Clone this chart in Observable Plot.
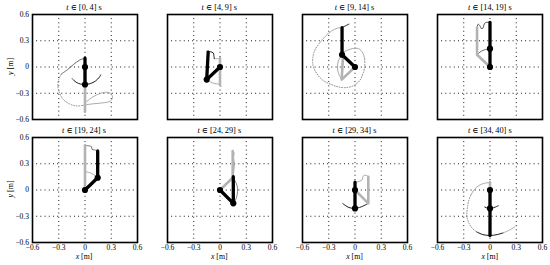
<!DOCTYPE html>
<html><head><meta charset="utf-8">
<script src="https://cdn.jsdelivr.net/npm/d3@7"></script>
<script src="https://cdn.jsdelivr.net/npm/@observablehq/plot@0.6"></script>
<style>
body{margin:0;background:#fff;}
#chart{position:relative;width:550px;height:265px;overflow:hidden;}
#chart svg{position:absolute;}
#chart svg text{font-family:"Liberation Serif","DejaVu Serif",serif !important;}
</style></head><body><div id="chart"></div>
<script>
// ---- data ----
const intervalStart = [0, 4, 9, 14, 19, 24, 29, 34];
const intervalEnd   = [4, 9, 14, 19, 24, 29, 34, 40];
const tickValues = [-0.6, -0.3, 0, 0.3, 0.6];
const tickLabels = ["−0.6", "−0.3", "0", "0.3", "0.6"];
const gridValues = [-0.3, 0, 0.3];

// arm configuration at the end of each interval: base, elbow, tip
const armEnd = [
  [[0,0],[0,-0.2],[0,0.1]],
  [[0,0],[-0.152,-0.144],[-0.135,0.17]],
  [[0,0],[-0.148,0.14],[-0.148,0.45]],
  [[0,0],[0,0.21],[0,0.51]],
  [[0,0],[0.145,0.14],[0.145,0.446]],
  [[0,0],[0.152,-0.152],[0.152,0.152]],
  [[0,0],[0,-0.21],[0,0.09]],
  [[0,0],[0,-0.21],[0,-0.52]]
];
// arm configuration at the start of each interval
const armStart = [
  [[0,0],[0,-0.2],[0,-0.51]],
  [[0,0],[0,-0.2],[0,0.1]],
  [[0,0],[-0.152,-0.144],[-0.135,0.17]],
  [[0,0],[-0.148,0.14],[-0.148,0.45]],
  [[0,0],[0,0.21],[0,0.51]],
  [[0,0],[0.145,0.14],[0.145,0.446]],
  [[0,0],[0.152,-0.152],[0.152,0.152]],
  [[0,0],[0,-0.21],[0,0.09]]
];

// trajectories
const p1TipA = [[0,-0.5],[0,-0.42],[0.05,-0.37],[0.13,-0.32],[0.22,-0.29],[0.29,-0.3],[0.315,-0.345],[0.29,-0.39],[0.2,-0.41],[0.1,-0.42],[0.02,-0.43],[-0.03,-0.44]];
const p1TipB = [[-0.03,-0.44],[-0.1,-0.445],[-0.18,-0.42],[-0.25,-0.37],[-0.29,-0.3],[-0.31,-0.22],[-0.3,-0.14],[-0.27,-0.08]];
const p1TipC = [[-0.27,-0.08],[-0.2,-0.03],[-0.13,0.03],[-0.06,0.08],[0,0.1]];
const p1Elbow = [[-0.145,-0.135],[-0.1,-0.175],[-0.05,-0.195],[0,-0.2],[0.06,-0.19],[0.12,-0.16],[0.165,-0.115],[0.18,-0.09]];

const p2TipA = [[0,0.1],[-0.03,0.095],[-0.065,0.095]];
const p2TipB = [[-0.065,0.095],[-0.07,0.13],[-0.076,0.16],[-0.11,0.175],[-0.148,0.18]];
const p2Elbow = [[0.015,-0.225],[0,-0.2],[-0.06,-0.19],[-0.11,-0.17],[-0.152,-0.144]];

const p3TipA = [[-0.135,0.17],[-0.08,0.195],[-0.03,0.21],[0.04,0.21],[0.09,0.16],[0.11,0.09]];
const p3TipB = [[0.11,0.09],[0.11,0.0],[0.09,-0.08],[0.05,-0.16],[-0.02,-0.215],[-0.1,-0.235],[-0.18,-0.23],[-0.27,-0.2],[-0.37,-0.15],[-0.44,-0.07],[-0.48,0.02],[-0.48,0.12],[-0.45,0.21],[-0.4,0.28]];
const p3TipC = [[-0.4,0.28],[-0.34,0.35],[-0.27,0.41],[-0.2,0.445],[-0.148,0.45]];
const p3TipD = [[-0.148,0.45],[-0.11,0.47],[-0.07,0.49]];
const p3Elbow = [[-0.152,-0.144],[-0.19,-0.07],[-0.2,0.0],[-0.19,0.07],[-0.148,0.14]];

const p4Tip = [[-0.148,0.45],[-0.135,0.49],[-0.115,0.47],[-0.1,0.44],[-0.08,0.445],[-0.07,0.48],[-0.055,0.505],[-0.02,0.512],[0,0.51]];
const p4Elbow = [[-0.148,0.14],[-0.1,0.18],[-0.05,0.2],[0,0.21]];

const p5Tip = [[0,0.51],[0.04,0.505],[0.075,0.495],[0.08,0.465],[0.11,0.458],[0.145,0.446]];
const p5Elbow = [[0,0.21],[0.05,0.2],[0.1,0.175],[0.145,0.14]];

const p6Tip = [[0.145,0.446],[0.16,0.43],[0.155,0.37],[0.165,0.3],[0.158,0.22],[0.152,0.152]];
const p6Elbow = [[0.145,0.14],[0.18,0.09],[0.2,0.02],[0.195,-0.06],[0.175,-0.12],[0.152,-0.152]];

const p7Tip = [[0.152,0.152],[0.12,0.17],[0.09,0.155],[0.085,0.12],[0.05,0.1],[0.02,0.09],[0,0.09]];
const p7Elbow = [[0.152,-0.152],[0.1,-0.18],[0.05,-0.2],[0,-0.21],[-0.07,-0.2],[-0.14,-0.155]];

const p8TipA = [[0,0.085],[-0.05,0.08],[-0.1,0.065],[-0.15,0.035],[-0.19,-0.01],[-0.22,-0.06]];
const p8TipB = [[-0.22,-0.06],[-0.245,-0.13],[-0.26,-0.22],[-0.265,-0.3],[-0.24,-0.38],[-0.2,-0.44],[-0.15,-0.48]];
const p8TipC = [[-0.15,-0.48],[-0.08,-0.51],[0,-0.52],[0.08,-0.51],[0.15,-0.49]];
const p8TipD = [[0.15,-0.49],[0.22,-0.46],[0.285,-0.42]];
const p8Elbow = [[-0.06,-0.195],[0,-0.213],[0.095,-0.18]];

// ---- styles ----
const LIGHT = {stroke: "#a0a0a0", strokeWidth: 0.9};
const DOT = {stroke: "#8c8c8c", strokeWidth: 1, strokeDasharray: "0.9,1.7"};
const DARK = {stroke: "#1a1a1a", strokeWidth: 1};

const traces = [
  [[p1TipA, LIGHT], [p1TipB, DOT], [p1TipC, {stroke:"#555", strokeWidth:0.9}], [p1Elbow, DARK]],
  [[p2TipA, LIGHT], [p2TipB, DARK], [p2Elbow, LIGHT]],
  [[p3TipA, LIGHT], [p3TipB, DOT], [p3TipC, LIGHT], [p3TipD, DARK], [p3Elbow, LIGHT]],
  [[p4Tip, {stroke:"#444", strokeWidth:0.9}], [p4Elbow, {stroke:"#555", strokeWidth:0.9}]],
  [[p5Tip, {stroke:"#666", strokeWidth:0.9}], [p5Elbow, LIGHT]],
  [[p6Tip, LIGHT], [p6Elbow, {stroke:"#777", strokeWidth:0.9}]],
  [[p7Tip, LIGHT], [p7Elbow, DARK]],
  [[p8TipA, LIGHT], [p8TipB, DOT], [p8TipC, DARK], [p8TipD, LIGHT], [p8Elbow, DARK]]
];

// ---- layout ----
const S = 105;               // panel size in px
const ML = 36, MR = 16, MT = 16, MB = 22;
const colLeft = [31.5, 166.8, 302, 437.3];
const rowTop = [14, 136.5];
const FONT = "'Liberation Serif', 'DejaVu Serif', serif";
const chart = document.getElementById("chart");
const xy = {x: d => d[0], y: d => d[1]};

for (let i = 0; i < 8; i++) {
  const row = Math.floor(i / 4), col = i % 4;
  const marks = [
    Plot.ruleX(gridValues, {stroke: "#000", strokeWidth: 1, strokeDasharray: "0.9,3.3"}),
    Plot.ruleY(gridValues, {stroke: "#000", strokeWidth: 1, strokeDasharray: "0.9,3.3"}),
    ...traces[i].map(([pts, st]) => Plot.line(pts, {...xy, ...st, curve: "catmull-rom"})),
    Plot.line(armStart[i], {...xy, stroke: "#b3b3b3", strokeWidth: 2.6}),
    Plot.line(armEnd[i], {...xy, stroke: "#000", strokeWidth: 3.3}),
    Plot.dot(armEnd[i].slice(0, 2), {...xy, r: 3.1, fill: "#000", stroke: "none"}),
    Plot.frame({stroke: "#000", strokeWidth: 1.6})
  ];
  const fmt = d => tickLabels[tickValues.indexOf(d)];
  const svg = Plot.plot({
    width: ML + S + MR, height: MT + S + MB,
    marginLeft: ML, marginRight: MR, marginTop: MT, marginBottom: MB,
    x: {domain: [-0.6, 0.6], axis: row === 1 ? "bottom" : null, ticks: tickValues, tickSize: 0, tickPadding: 2.5, tickFormat: fmt, label: null},
    y: {domain: [-0.6, 0.6], axis: col === 0 ? "left" : null, ticks: tickValues, tickSize: 0, tickPadding: 3.5, tickFormat: fmt, label: null},
    style: {background: "transparent", fontFamily: FONT, fontSize: "7.5px", overflow: "visible", color: "#000"},
    marks
  });
  svg.style.left = (colLeft[col] - ML) + "px";
  svg.style.top = (rowTop[row] - MT) + "px";
  svg.style.fontFamily = FONT;
  chart.appendChild(svg);
}

// ---- titles and axis labels ----
const over = d3.select(chart).append("svg")
  .attr("width", 550).attr("height", 265)
  .style("left", "0px").style("top", "0px")
  .style("font-family", FONT).style("pointer-events", "none");

for (let i = 0; i < 8; i++) {
  const row = Math.floor(i / 4), col = i % 4;
  const t = over.append("text")
    .attr("x", colLeft[col] + S / 2).attr("y", row === 0 ? 10 : 132.5)
    .attr("text-anchor", "middle").attr("font-size", 8.3);
  t.append("tspan").attr("font-style", "italic").text("t");
  t.append("tspan").text(` ∈ [${intervalStart[i]},\u2009${intervalEnd[i]}] s`);
}
for (let row = 0; row < 2; row++) {
  const t = over.append("text")
    .attr("transform", `translate(12.5,${rowTop[row] + S / 2}) rotate(-90)`)
    .attr("text-anchor", "middle").attr("font-size", 8);
  t.append("tspan").attr("font-style", "italic").text("y");
  t.append("tspan").text(" [m]");
}
for (let col = 0; col < 4; col++) {
  const t = over.append("text")
    .attr("x", colLeft[col] + S / 2).attr("y", 259)
    .attr("text-anchor", "middle").attr("font-size", 7.8);
  t.append("tspan").attr("font-style", "italic").text("x");
  t.append("tspan").text(" [m]");
}
</script></body></html>
